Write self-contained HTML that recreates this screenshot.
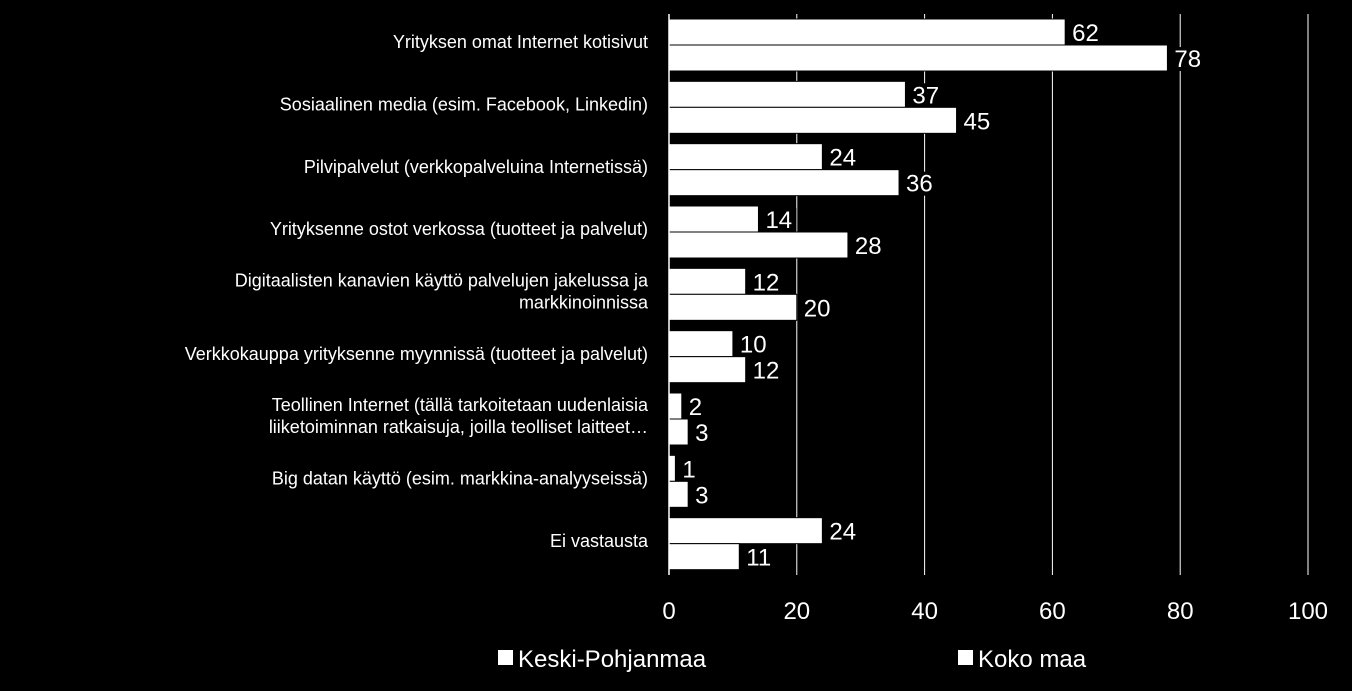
<!DOCTYPE html>
<html><head><meta charset="utf-8"><style>
html,body{margin:0;padding:0;background:#000;}
svg{display:block;font-family:"Liberation Sans",sans-serif;}
</style></head><body>
<svg id="chart" width="1352" height="691" viewBox="0 0 1352 691" xmlns="http://www.w3.org/2000/svg">
<rect width="1352" height="691" fill="#000"/>
<g id="grid"></g><g id="bars"></g><g id="labels"></g><g id="axis"></g>
<g>
<rect x="498" y="650" width="15" height="15" fill="#fff"/>
<text x="518" y="667" font-size="24" fill="#fff">Keski-Pohjanmaa</text>
<rect x="958" y="650" width="15" height="15" fill="#fff"/>
<text x="978" y="667" font-size="24" fill="#fff">Koko maa</text>
</g>
</svg>
<script>
const categories=[["Yrityksen omat Internet kotisivut"],["Sosiaalinen media (esim. Facebook, Linkedin)"],["Pilvipalvelut  (verkkopalveluina Internetissä)"],["Yrityksenne ostot verkossa (tuotteet ja palvelut)"],["Digitaalisten kanavien käyttö palvelujen jakelussa ja","markkinoinnissa"],["Verkkokauppa yrityksenne myynnissä (tuotteet ja palvelut)"],["Teollinen Internet (tällä tarkoitetaan uudenlaisia","liiketoiminnan ratkaisuja, joilla teolliset laitteet…"],["Big datan käyttö (esim. markkina-analyyseissä)"],["Ei vastausta"]];
const keskiPohjanmaa=[62,37,24,14,12,10,2,1,24];
const kokoMaa=[78,45,36,28,20,12,3,3,11];
const ticks=[0,20,40,60,80,100];
const NS="http://www.w3.org/2000/svg";
const x0=669,x1=1308,yTop=14,yBottom=575;
const band=(yBottom-yTop)/categories.length;
const xs=v=>x0+(x1-x0)*v/100;
function mk(t,a,p){const e=document.createElementNS(NS,t);for(const k in a)e.setAttribute(k,a[k]);p.appendChild(e);return e;}
const grid=document.getElementById('grid'),bars=document.getElementById('bars'),labels=document.getElementById('labels'),axis=document.getElementById('axis');
ticks.forEach(t=>{
 if(t>0){const g=mk('line',{x1:xs(t),x2:xs(t),y1:yTop,y2:yBottom,stroke:'#fff','stroke-width':1},grid);
 
 }
 const tl=mk('text',{x:xs(t),y:619,'font-size':24,fill:'#fff','text-anchor':'middle'},axis);
 tl.textContent=t;
 
 
});
const ax=mk('line',{x1:x0,x2:x0,y1:yTop,y2:yBottom,stroke:'#fff','stroke-width':1.5},axis);


categories.forEach((c,i)=>{
 const b=yTop+i*band;
 [[keskiPohjanmaa[i],b+5,'keski'],[kokoMaa[i],b+31,'koko']].forEach(([v,y,s])=>{
  const r=mk('rect',{x:x0,y:y,width:xs(v)-x0,height:26,fill:'#fff',stroke:'#000','stroke-width':1},bars);
  
  
  const bg=mk('rect',{x:xs(v)+2,y:y+2,width:String(v).length*13+10,height:24,fill:'#000'},labels);
  
  
  const t=mk('text',{x:xs(v)+7,y:y+22,'font-size':24,fill:'#fff'},labels);
  t.textContent=v;
  
  
 });
 const cy=b+band/2-3;
 const n=c.length;
 c.forEach((line,j)=>{
  const t=mk('text',{x:648,y:cy+6+(j-(n-1)/2)*22,'font-size':18,fill:'#fff','text-anchor':'end'},axis);
  t.textContent=line;
  
  
 });
});
</script>
</body></html>
